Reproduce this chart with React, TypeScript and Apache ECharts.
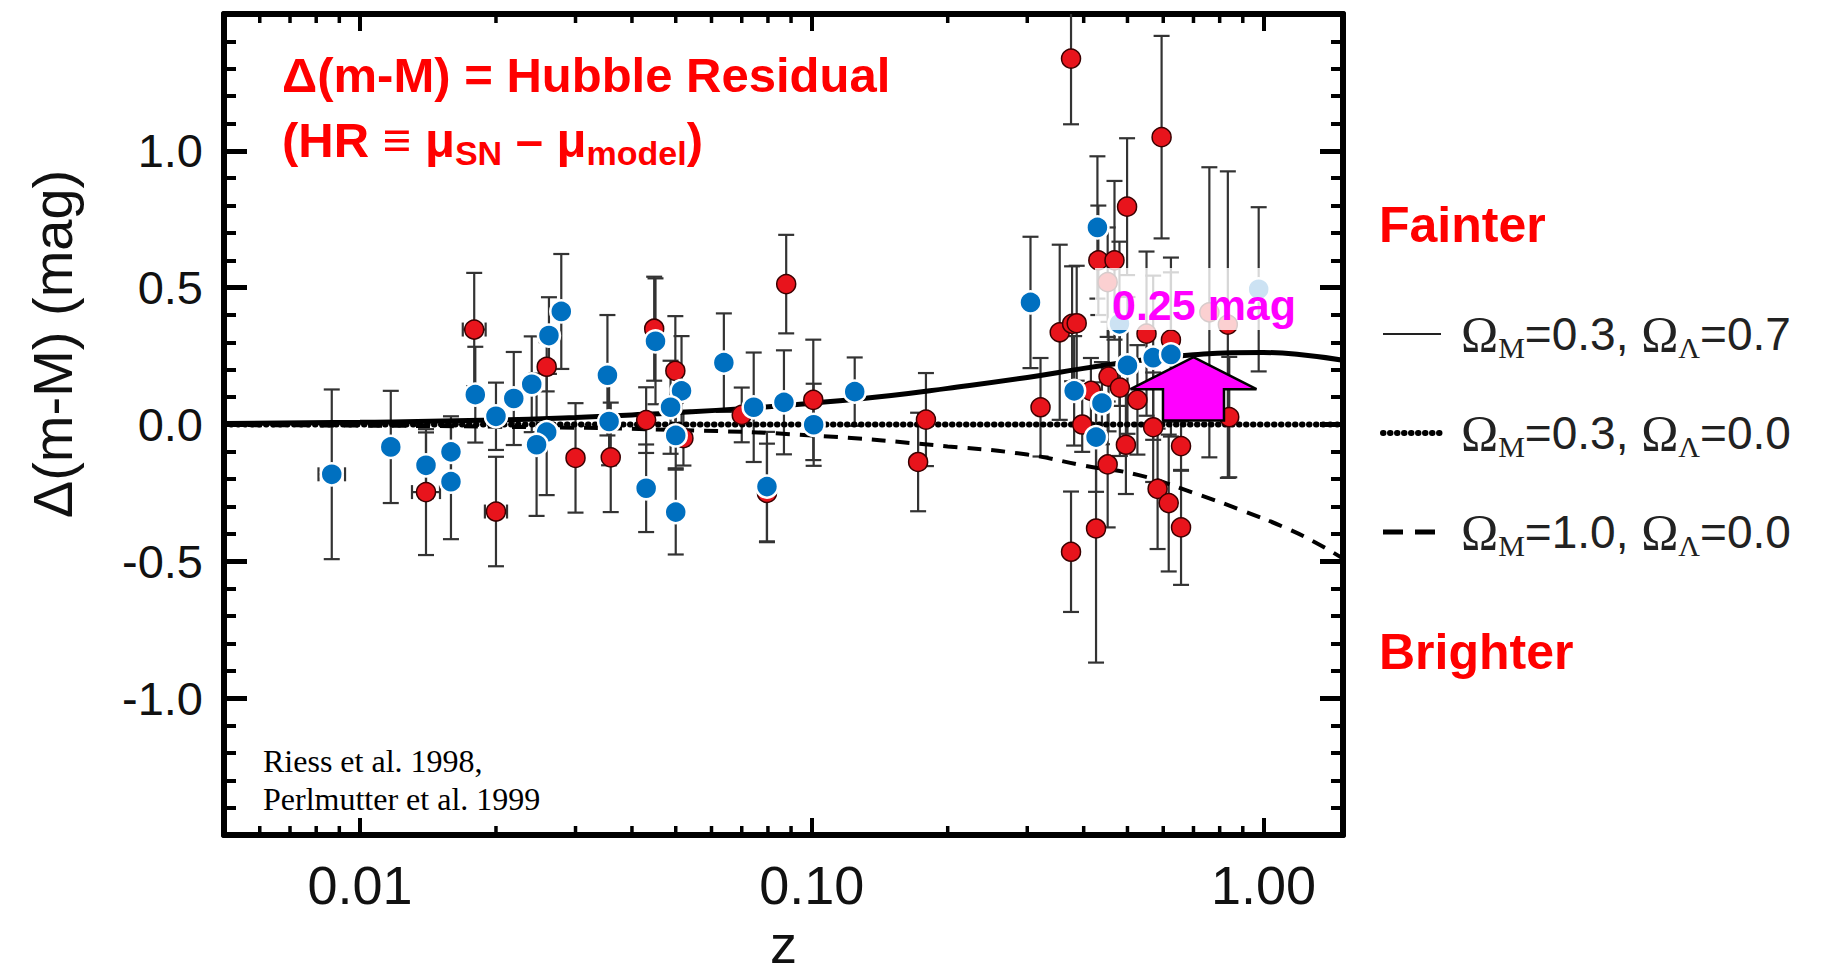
import React, { useEffect, useRef } from "react";
import * as echarts from "echarts";

// ---------------- data ----------------
// Blue SNe
const blueZ = [0.00866, 0.0117, 0.014, 0.0159, 0.0159, 0.018, 0.02, 0.0219, 0.024, 0.0262, 0.0279, 0.0259, 0.0246, 0.0353, 0.0356, 0.0451, 0.043, 0.0515, 0.0487, 0.05, 0.05, 0.0639, 0.0744, 0.0796, 0.0868, 0.101, 0.1245, 0.305, 0.381, 0.439, 0.426, 0.5, 0.57, 0.624, 0.429, 0.48, 0.976];
const blueHR = [-0.182, -0.082, -0.149, -0.1, -0.209, 0.109, 0.03, 0.095, 0.147, 0.325, 0.413, -0.028, -0.074, 0.18, 0.011, 0.304, -0.233, 0.123, 0.063, -0.04, -0.32, 0.226, 0.063, -0.227, 0.081, -0.001, 0.12, 0.446, 0.123, 0.078, -0.046, 0.216, 0.244, 0.256, 0.72, 0.368, 0.494];
const blueErr = [0.31, 0.205, 0.12, 0.13, 0.21, 0.175, 0.123, 0.17, 0.175, 0.14, 0.21, 0.23, 0.26, 0.22, 0.16, 0.23, 0.16, 0.2, 0.17, 0.12, 0.155, 0.18, 0.2, 0.2, 0.19, 0.15, 0.125, 0.24, 0.2, 0.15, 0.2, 0.25, 0.3, 0.3, 0.26, 0.3, 0.3];
const blueZErr = [1.07, 0, 0, 0, 0, 0, 0, 0, 0, 0, 0, 0, 0, 0, 0, 0, 0, 0, 0, 0, 0, 0, 0, 0, 0, 0, 0, 0, 0, 0, 0, 0, 0, 0, 0, 0, 0];

// Red SNe
const redZ = [0.014, 0.0179, 0.02, 0.0259, 0.03, 0.0359, 0.043, 0.0448, 0.0499, 0.052, 0.07, 0.0796, 0.0878, 0.1008, 0.172, 0.179, 0.321, 0.354, 0.375, 0.377, 0.386, 0.375, 0.426, 0.431, 0.468, 0.452, 0.454, 0.481, 0.452, 0.496, 0.499, 0.526, 0.551, 0.57, 0.583, 0.595, 0.617, 0.624, 0.657, 0.657, 0.759, 0.834, 0.84, 0.397, 0.415];
const redHR = [-0.247, 0.347, -0.318, 0.211, -0.122, -0.12, 0.016, 0.35, 0.196, -0.05, 0.035, -0.25, 0.513, 0.09, -0.137, 0.018, 0.063, 0.337, 1.337, 0.368, 0.37, -0.465, -0.38, 0.6, 0.6, 0.52, 0.175, 0.135, -0.146, -0.074, 0.796, 0.09, 0.332, -0.01, -0.235, 1.05, -0.287, 0.31, -0.079, -0.376, 0.41, 0.365, 0.027, 0.0, 0.123];
const redErr = [0.23, 0.207, 0.2, 0.09, 0.2, 0.2, 0.12, 0.19, 0.2, 0.1, 0.1, 0.18, 0.18, 0.22, 0.18, 0.17, 0.18, 0.32, 0.24, 0.21, 0.21, 0.22, 0.49, 0.2, 0.29, 0.2, 0.2, 0.25, 0.23, 0.18, 0.25, 0.2, 0.3, 0.2, 0.22, 0.37, 0.25, 0.3, 0.09, 0.21, 0.53, 0.56, 0.22, 0.1, 0.12];
const redZErr = [1.074, 1.06, 1.058, 1.035, 0, 0, 0, 0, 0, 0, 0, 0, 0, 0, 0, 0, 0, 0, 0, 0, 0, 0, 0, 0, 0, 0, 0, 0, 0, 0, 0, 0, 0, 0, 0, 0, 0, 0, 0, 0, 0, 0, 0, 0, 0];

// Model curves
const solidZ = [0.005, 0.01, 0.02, 0.03, 0.04, 0.05, 0.07, 0.1, 0.15, 0.2, 0.3, 0.4, 0.5, 0.6, 0.7, 0.85, 1.0, 1.2, 1.5];
const solidHR = [0.004, 0.008, 0.016, 0.026, 0.035, 0.043, 0.058, 0.078, 0.106, 0.132, 0.172, 0.205, 0.228, 0.245, 0.255, 0.262, 0.263, 0.256, 0.235];
const dottedZ = [0.005, 1.5];
const dottedHR = [0, 0];
const dashedZ = [0.005, 0.01, 0.02, 0.05, 0.1, 0.2, 0.3, 0.4, 0.53, 0.7, 0.9, 1.12, 1.3, 1.5];
const dashedHR = [-0.002, -0.004, -0.008, -0.02, -0.04, -0.08, -0.11, -0.15, -0.185, -0.25, -0.315, -0.378, -0.43, -0.49];

const seriesNames = ["ΩM=0.3, ΩΛ=0.7", "ΩM=0.3, ΩΛ=0.0", "ΩM=1.0, ΩΛ=0.0"];

// Axis ticks
const xMajorLabels = [0.01, 0.1, 1];
const xMinorTicks = [0.006, 0.007, 0.008, 0.009, 0.02, 0.03, 0.04, 0.05, 0.06, 0.07, 0.08, 0.09, 0.2, 0.3, 0.4, 0.5, 0.6, 0.7, 0.8, 0.9];

// Annotation arrow (0.25 mag)
const arrowZ = 0.7;
const arrowFrom = 0.015;
const arrowTo = 0.246;

const SANS = "'Liberation Sans', Arial, Helvetica, sans-serif";
const SERIF = "'Liberation Serif', 'Times New Roman', serif";

export default function App() {
  const ref = useRef<HTMLDivElement>(null);

  useEffect(() => {
    const chart = echarts.init(ref.current as HTMLDivElement, null, { renderer: "svg" });

    const axisLine = { show: true, onZero: false, lineStyle: { color: "#000", width: 6 } };
    const xTick = { show: true, inside: true, length: 17, lineStyle: { color: "#000", width: 4 } };
    const yTick = { show: true, inside: true, length: 23, lineStyle: { color: "#000", width: 5 } };
    const yMinor = { show: true, splitNumber: 5, length: 12, lineStyle: { color: "#000", width: 4 } };

    const errData = [
      ...blueZ.map((z, i) => [z, blueHR[i], blueErr[i], blueZErr[i]]),
      ...redZ.map((z, i) => [z, redHR[i], redErr[i], redZErr[i]]),
    ];

    const legendRich = {
      o1: { fontFamily: SERIF, fontSize: 50, lineHeight: 56, color: "#222", padding: [0, 0, 0, 15] },
      o: { fontFamily: SERIF, fontSize: 50, lineHeight: 56, color: "#222" },
      s: { fontFamily: SERIF, fontSize: 30, lineHeight: 30, color: "#222", verticalAlign: "bottom" },
      t: { fontFamily: SANS, fontSize: 46, lineHeight: 56, color: "#222" },
    };
    const noSymbol = { color: "rgba(0,0,0,0)", borderColor: "rgba(0,0,0,0)", borderWidth: 0 };

    const option: any = {
      animation: false,
      backgroundColor: "#fff",
      grid: { left: 224, right: 479, top: 14, bottom: 134, containLabel: false },
      xAxis: [
        {
          type: "log",
          logBase: 10,
          min: 0.005,
          max: 1.5,
          position: "bottom",
          axisLine,
          axisTick: xTick,
          splitLine: { show: false },
          axisLabel: {
            show: true,
            margin: 23,
            fontFamily: SANS,
            fontSize: 54,
            color: "#111",
            formatter: (v: number) => {
              const hit = xMajorLabels.find((m) => Math.abs(Math.log10(v) - Math.log10(m)) < 1e-6);
              return hit === undefined ? "" : hit.toFixed(2);
            },
          },
          name: "z",
          nameLocation: "middle",
          nameGap: 82,
          nameTextStyle: { fontFamily: SANS, fontSize: 54, color: "#111" },
        },
        {
          type: "log",
          logBase: 10,
          min: 0.005,
          max: 1.5,
          position: "top",
          axisLine,
          axisTick: xTick,
          splitLine: { show: false },
          axisLabel: { show: false },
        },
      ],
      yAxis: [
        {
          type: "value",
          min: -1.5,
          max: 1.5,
          interval: 0.5,
          position: "left",
          axisLine,
          axisTick: yTick,
          minorTick: yMinor,
          splitLine: { show: false },
          minorSplitLine: { show: false },
          axisLabel: {
            margin: 21,
            fontFamily: SANS,
            fontSize: 47,
            color: "#111",
            formatter: (v: number) => (Math.abs(v) > 1.4 ? "" : v.toFixed(1)),
          },
        },
        {
          type: "value",
          min: -1.5,
          max: 1.5,
          interval: 0.5,
          position: "right",
          axisLine,
          axisTick: yTick,
          minorTick: yMinor,
          splitLine: { show: false },
          minorSplitLine: { show: false },
          axisLabel: { show: false },
        },
      ],
      legend: {
        orient: "vertical",
        left: 1380,
        top: 309,
        padding: 0,
        itemWidth: 58,
        itemHeight: 14,
        itemGap: 46,
        selectedMode: false,
        itemStyle: noSymbol,
        data: [
          { name: seriesNames[0], itemStyle: noSymbol, lineStyle: { width: 2, color: "#222" } },
          { name: seriesNames[1], itemStyle: noSymbol, lineStyle: { width: 6, color: "#000" } },
          { name: seriesNames[2], itemStyle: noSymbol, lineStyle: { width: 5, color: "#000", type: [20, 12] } },
        ],
        formatter: (name: string) => {
          const m = /=([\d.]+), ΩΛ=([\d.]+)/.exec(name);
          const a = m ? m[1] : "";
          const b = m ? m[2] : "";
          return `{o1|Ω}{s|M}{t|=${a}, }{o|Ω}{s|Λ}{t|=${b}}`;
        },
        textStyle: { rich: legendRich },
      },
      series: [
        {
          type: "custom",
          name: "minorX",
          xAxisIndex: 0,
          yAxisIndex: 0,
          silent: true,
          clip: false,
          z: 1,
          data: xMinorTicks.map((v) => [v, 0]),
          renderItem: (_p: any, api: any) => {
            const v = api.value(0);
            const b = api.coord([v, -1.5]);
            const t = api.coord([v, 1.5]);
            const st = { stroke: "#000", lineWidth: 3.5 };
            return {
              type: "group",
              children: [
                { type: "line", shape: { x1: b[0], y1: b[1], x2: b[0], y2: b[1] - 9 }, style: st },
                { type: "line", shape: { x1: t[0], y1: t[1], x2: t[0], y2: t[1] + 9 }, style: st },
              ],
            };
          },
        },
        {
          type: "custom",
          name: "errors",
          silent: true,
          clip: true,
          z: 2,
          data: errData,
          renderItem: (_p: any, api: any) => {
            const z = api.value(0);
            const v = api.value(1);
            const e = api.value(2);
            const f = api.value(3);
            const top = api.coord([z, v + e]);
            const bot = api.coord([z, v - e]);
            const st = { stroke: "#333", lineWidth: 2.2 };
            const cap = 8;
            const children: any[] = [
              { type: "line", shape: { x1: top[0], y1: top[1], x2: bot[0], y2: bot[1] }, style: st },
              { type: "line", shape: { x1: top[0] - cap, y1: top[1], x2: top[0] + cap, y2: top[1] }, style: st },
              { type: "line", shape: { x1: bot[0] - cap, y1: bot[1], x2: bot[0] + cap, y2: bot[1] }, style: st },
            ];
            if (f > 0) {
              const l = api.coord([z / f, v]);
              const r = api.coord([z * f, v]);
              children.push(
                { type: "line", shape: { x1: l[0], y1: l[1], x2: r[0], y2: r[1] }, style: st },
                { type: "line", shape: { x1: l[0], y1: l[1] - 7, x2: l[0], y2: l[1] + 7 }, style: st },
                { type: "line", shape: { x1: r[0], y1: r[1] - 7, x2: r[0], y2: r[1] + 7 }, style: st }
              );
            }
            return { type: "group", children };
          },
        },
        {
          type: "line",
          name: seriesNames[0],
          data: solidZ.map((z, i) => [z, solidHR[i]]),
          symbol: "none",
          showSymbol: false,
          smooth: true,
          z: 3,
          lineStyle: { color: "#000", width: 5 },
          itemStyle: { color: "#000" },
        },
        {
          type: "line",
          name: seriesNames[1],
          data: dottedZ.map((z, i) => [z, dottedHR[i]]),
          symbol: "none",
          showSymbol: false,
          z: 3,
          lineStyle: { color: "#000", width: 6, type: [0.5, 6.5], cap: "round" },
          itemStyle: { color: "#000" },
        },
        {
          type: "line",
          name: seriesNames[2],
          data: dashedZ.map((z, i) => [z, dashedHR[i]]),
          symbol: "none",
          showSymbol: false,
          smooth: true,
          z: 3,
          lineStyle: { color: "#000", width: 4, type: [14, 10] },
          itemStyle: { color: "#000" },
        },
        {
          type: "scatter",
          name: "red",
          data: redZ.map((z, i) => [z, redHR[i]]),
          symbol: "circle",
          symbolSize: 19,
          z: 4,
          itemStyle: { color: "#E8141C", borderColor: "#3a0000", borderWidth: 1.5, opacity: 1 },
        },
        {
          type: "scatter",
          name: "blue",
          data: blueZ.map((z, i) => [z, blueHR[i]]),
          symbol: "circle",
          symbolSize: 22,
          z: 5,
          itemStyle: { color: "#0070C0", borderColor: "#ffffff", borderWidth: 2.5, opacity: 1 },
        },
        {
          type: "custom",
          name: "arrow",
          silent: true,
          clip: false,
          z: 6,
          data: [[arrowZ, arrowFrom, arrowTo]],
          renderItem: (_p: any, api: any) => {
            const b = api.coord([api.value(0), api.value(1)]);
            const t = api.coord([api.value(0), api.value(2)]);
            const cx = b[0];
            const hy = t[1] + 32;
            return {
              type: "polygon",
              shape: {
                points: [
                  [cx - 30.5, b[1]],
                  [cx + 30.5, b[1]],
                  [cx + 30.5, hy],
                  [cx + 63, hy],
                  [cx, t[1]],
                  [cx - 63, hy],
                  [cx - 30.5, hy],
                ],
              },
              style: { fill: "#FF00FF", stroke: "#000", lineWidth: 2.5 },
            };
          },
        },
      ],
      graphic: [
        {
          type: "text",
          x: 282,
          y: 75,
          z: 100,
          style: {
            text: "Δ(m-M) = Hubble Residual",
            fill: "#FF0000",
            fontFamily: SANS,
            fontWeight: "bold",
            fontSize: 49,
            verticalAlign: "middle",
          },
        },
        {
          type: "text",
          x: 282,
          y: 110,
          z: 100,
          style: {
            text: "{t|(HR ≡ μ}{s|SN}{t| – μ}{s|model}{t|)}",
            fill: "#FF0000",
            verticalAlign: "top",
            rich: {
              t: { fill: "#FF0000", fontFamily: SANS, fontWeight: "bold", fontSize: 49, lineHeight: 60 },
              s: { fill: "#FF0000", fontFamily: SANS, fontWeight: "bold", fontSize: 34, lineHeight: 30, verticalAlign: "bottom" },
            },
          },
        },
        {
          type: "text",
          x: 1379,
          y: 225,
          z: 100,
          style: { text: "Fainter", fill: "#FF0000", fontFamily: SANS, fontWeight: "bold", fontSize: 50, verticalAlign: "middle" },
        },
        {
          type: "text",
          x: 1379,
          y: 652,
          z: 100,
          style: { text: "Brighter", fill: "#FF0000", fontFamily: SANS, fontWeight: "bold", fontSize: 50, verticalAlign: "middle" },
        },
        {
          type: "rect",
          z: 100,
          shape: { x: 1095, y: 268, width: 210, height: 62 },
          style: { fill: "rgba(255,255,255,0.8)" },
        },
        {
          type: "text",
          x: 1112,
          y: 305,
          z: 101,
          style: { text: "0.25 mag", fill: "#FF00FF", fontFamily: SANS, fontWeight: "bold", fontSize: 43, verticalAlign: "middle" },
        },
        {
          type: "text",
          x: 52,
          y: 344,
          rotation: Math.PI / 2,
          z: 100,
          style: { text: "Δ(m-M) (mag)", fill: "#111", fontFamily: SANS, fontSize: 56, align: "center", verticalAlign: "middle" },
        },
        {
          type: "text",
          x: 263,
          y: 761,
          z: 100,
          style: { text: "Riess et al. 1998,", fill: "#000", fontFamily: SERIF, fontSize: 32, verticalAlign: "middle" },
        },
        {
          type: "text",
          x: 263,
          y: 799,
          z: 100,
          style: { text: "Perlmutter et al. 1999", fill: "#000", fontFamily: SERIF, fontSize: 32, verticalAlign: "middle" },
        },
      ],
    };

    chart.setOption(option);
    return () => chart.dispose();
  }, []);

  return (
    <div
      ref={ref}
      style={{ position: "fixed", left: 0, top: 0, width: 1822, height: 976, background: "#fff" }}
    />
  );
}
